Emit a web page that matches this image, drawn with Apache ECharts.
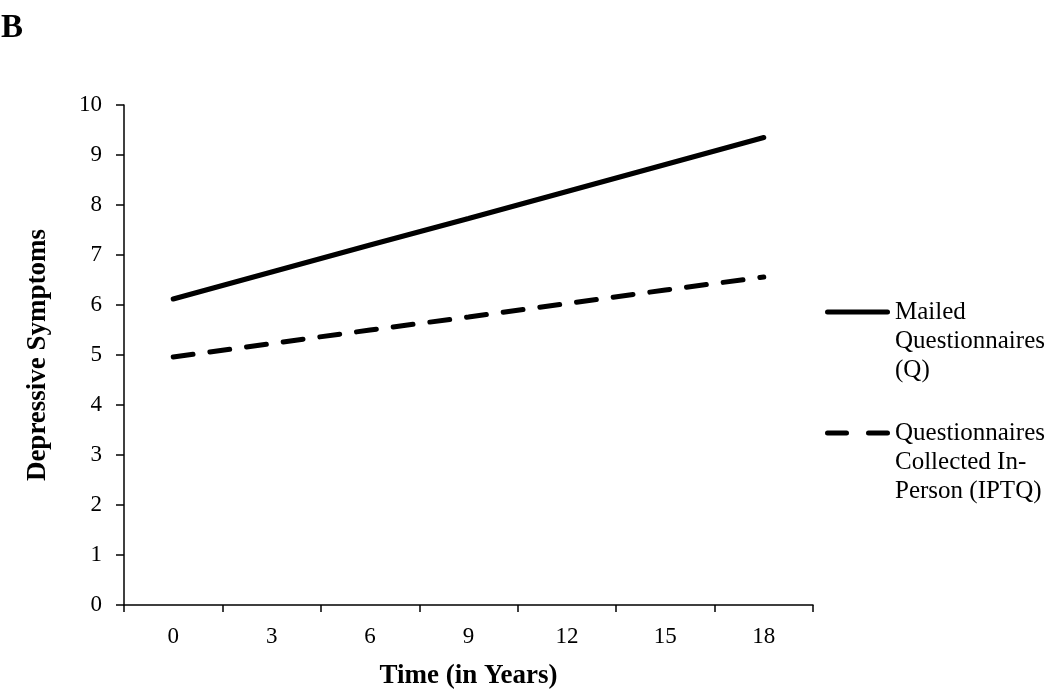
<!DOCTYPE html>
<html>
<head>
<meta charset="utf-8">
<script src="https://cdn.jsdelivr.net/npm/echarts@6/dist/echarts.min.js"></script>
<style>
html,body{margin:0;padding:0;background:#fff;}
#chart{width:1050px;height:689px;}
</style>
</head>
<body>
<div id="chart"></div>
<script>
const categories = ['0', '3', '6', '9', '12', '15', '18'];
const mailedQ = [6.12, 6.66, 7.20, 7.73, 8.27, 8.81, 9.35];
const inPersonIPTQ = [4.96, 5.23, 5.50, 5.76, 6.03, 6.30, 6.56];
const yTicks = [0, 1, 2, 3, 4, 5, 6, 7, 8, 9, 10];
const nameQ = 'Mailed\nQuestionnaires\n(Q)';
const nameIPTQ = 'Questionnaires\nCollected In-\nPerson (IPTQ)';

const FONT = '"Liberation Serif", "Times New Roman", serif';
const chart = echarts.init(document.getElementById('chart'), null, {renderer: 'canvas'});

const legendText = {fontFamily: FONT, fontSize: 25, lineHeight: 29, color: '#000'};
const solidIcon = 'path://M2.5,0 H62.5 A2.5,2.5 0 0 1 62.5,5 H2.5 A2.5,2.5 0 0 1 2.5,0 Z';
const dashIcon = 'path://M2.5,0 H21.5 A2.5,2.5 0 0 1 21.5,5 H2.5 A2.5,2.5 0 0 1 2.5,0 Z M43.5,0 H62.5 A2.5,2.5 0 0 1 62.5,5 H43.5 A2.5,2.5 0 0 1 43.5,0 Z';
const legendFmt = function (n) { return '\n\n' + n; };

chart.setOption({
  backgroundColor: '#fff',
  animation: false,
  graphic: [{
    type: 'text', left: 1, top: 12,
    style: {text: 'B', font: 'bold 33px ' + FONT, fill: '#000'}
  }],
  grid: {left: 124, right: 237, top: 105, bottom: 84, containLabel: false, outerBoundsMode: 'none'},
  legend: [{
    data: [{name: nameQ, icon: solidIcon}], left: 825, top: 312 - 72.5, padding: 0, orient: 'vertical',
    itemWidth: 65, itemHeight: 5, itemGap: 0, textStyle: legendText, selectedMode: false,
    formatter: legendFmt, itemStyle: {color: '#000', borderWidth: 0}
  }, {
    data: [{name: nameIPTQ, icon: dashIcon}], left: 825, top: 433 - 72.5, padding: 0, orient: 'vertical',
    itemWidth: 65, itemHeight: 5, itemGap: 0, textStyle: legendText, selectedMode: false,
    formatter: legendFmt, itemStyle: {color: '#000', borderWidth: 0}
  }],
  xAxis: {
    type: 'category', data: categories, boundaryGap: true,
    name: 'Time (in Years)', nameLocation: 'middle', nameGap: 58,
    nameTextStyle: {fontFamily: FONT, fontSize: 27, fontWeight: 'bold', color: '#000'},
    axisLine: {lineStyle: {color: '#000', width: 1.5}},
    axisTick: {show: true, length: 7, alignWithLabel: false, lineStyle: {color: '#000', width: 1.5}},
    axisLabel: {fontFamily: FONT, fontSize: 23, color: '#000', margin: 20},
    splitLine: {show: false}
  },
  yAxis: {
    type: 'value', min: yTicks[0], max: yTicks[yTicks.length - 1], interval: 1,
    name: 'Depressive Symptoms', nameLocation: 'middle', nameGap: 72,
    nameTextStyle: {fontFamily: FONT, fontSize: 27, fontWeight: 'bold', color: '#000'},
    axisLine: {show: true, lineStyle: {color: '#000', width: 1.5}},
    axisTick: {show: true, length: 8, lineStyle: {color: '#000', width: 1.5}},
    axisLabel: {fontFamily: FONT, fontSize: 23, color: '#000', margin: 22},
    splitLine: {show: false}
  },
  series: [{
    name: nameQ, type: 'line', data: mailedQ, symbol: 'none',
    lineStyle: {color: '#000', width: 5, cap: 'round'}, itemStyle: {color: '#000'}
  }, {
    name: nameIPTQ, type: 'line', data: inPersonIPTQ, symbol: 'none',
    lineStyle: {color: '#000', width: 5, type: [20, 17], cap: 'round'}, itemStyle: {color: '#000'}
  }]
});
</script>
</body>
</html>
